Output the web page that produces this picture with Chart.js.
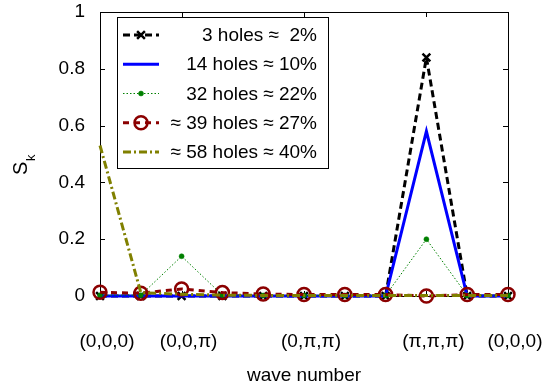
<!DOCTYPE html>
<html>
<head>
<meta charset="utf-8">
<script src="https://cdn.jsdelivr.net/npm/chart.js@4.4.1/dist/chart.umd.min.js"></script>
<style>
  html, body { margin: 0; padding: 0; background: #fff; }
  #wrap { width: 547px; height: 383px; }
</style>
</head>
<body>
<div id="wrap"><canvas id="sk"></canvas></div>
<script>
// --- Data ---
const waveIdx = [0, 1, 2, 3, 4, 5, 6, 7, 8, 9, 10];
const tickIdx = [0, 2, 5, 8, 10];
const tickNames = ['(0,0,0)', '(0,0,π)', '(0,π,π)', '(π,π,π)', '(0,0,0)'];
const yTicks = [0, 0.2, 0.4, 0.6, 0.8, 1];
const seriesNames = ['3 holes ≈  2%', '14 holes ≈ 10%', '32 holes ≈ 22%', '≈ 39 holes ≈ 27%', '≈ 58 holes ≈ 40%'];

const holes3  = [0, 0, 0, 0, 0, 0, 0, 0, 0.84, 0, 0];
const holes14 = [0, 0, 0, 0, 0, 0, 0, 0, 0.58, 0, 0];
const holes32 = [0.003, 0.003, 0.14, 0.003, 0.002, 0.002, 0.002, 0.002, 0.2, 0.002, 0.002];
const holes39 = [0.013, 0.01, 0.025, 0.012, 0.007, 0.005, 0.005, 0.005, 0, 0.005, 0.005];
const holes58 = [0.53, 0.012, 0.006, 0.003, 0.002, 0.002, 0.002, 0.002, 0.002, 0.002, 0.002];

const FONT = 'Liberation Sans, Arial, Helvetica, sans-serif';
const pts = arr => waveIdx.map((k, i) => ({ x: k, y: arr[i] }));

// axes box, inward ticks and axis titles
const frame = {
    id: 'frame',
    beforeDatasetsDraw(chart) {
        const { ctx, chartArea: a, scales: { x, y } } = chart;
        ctx.save();
        ctx.strokeStyle = '#000';
        ctx.lineWidth = 1;
        ctx.strokeRect(a.left + 0.5, a.top + 0.5, a.right - a.left, a.bottom - a.top);
        ctx.beginPath();
        tickIdx.forEach(v => {
            const px = Math.round(x.getPixelForValue(v)) + 0.5;
            ctx.moveTo(px, a.top); ctx.lineTo(px, a.top + 5);
            ctx.moveTo(px, a.bottom); ctx.lineTo(px, a.bottom - 5);
        });
        yTicks.forEach(v => {
            const py = Math.round(y.getPixelForValue(v)) + 0.5;
            ctx.moveTo(a.left, py); ctx.lineTo(a.left + 5, py);
            ctx.moveTo(a.right, py); ctx.lineTo(a.right - 5, py);
        });
        ctx.stroke();

        ctx.fillStyle = '#000';
        ctx.textAlign = 'center';
        ctx.textBaseline = 'middle';
        ctx.font = '19px ' + FONT;
        ctx.fillText('wave number', (a.left + a.right) / 2, 376);

        // S_k, rotated
        ctx.translate(27, 175);
        ctx.rotate(-Math.PI / 2);
        ctx.textAlign = 'left';
        ctx.textBaseline = 'alphabetic';
        ctx.font = '20px ' + FONT;
        ctx.fillText('S', 0, 0);
        ctx.font = '13px ' + FONT;
        ctx.fillText('k', 14, 8);
        ctx.restore();
    }
};

// boxed legend in the upper-left of the axes
const boxLegend = {
    id: 'boxLegend',
    afterDatasetsDraw(chart) {
        const { ctx } = chart;
        const L = 117, T = 17, R = 328, B = 168;
        ctx.save();
        ctx.fillStyle = '#fff';
        ctx.fillRect(L, T, R - L, B - T);
        ctx.strokeStyle = '#000';
        ctx.lineWidth = 1;
        ctx.strokeRect(L + 0.5, T + 0.5, R - L, B - T);

        chart.data.datasets.forEach((ds, i) => {
            const yy = 35 + i * 29.25;
            ctx.save();
            ctx.strokeStyle = ds.borderColor;
            ctx.lineWidth = ds.borderWidth;
            ctx.setLineDash(ds.borderDash || []);
            ctx.beginPath();
            ctx.moveTo(123, yy);
            ctx.lineTo(159, yy);
            ctx.stroke();
            ctx.setLineDash([]);
            if (ds.pointRadius > 0) {
                ctx.strokeStyle = ds.pointBorderColor;
                ctx.fillStyle = ds.pointBackgroundColor;
                ctx.lineWidth = ds.pointBorderWidth;
                Chart.helpers.drawPoint(ctx, {
                    pointStyle: ds.pointStyle, radius: ds.pointRadius,
                    borderWidth: ds.pointBorderWidth, rotation: 0
                }, 141, yy);
            }
            ctx.restore();

            ctx.fillStyle = '#000';
            ctx.font = '19px ' + FONT;
            ctx.textAlign = 'right';
            ctx.textBaseline = 'middle';
            ctx.fillText(ds.label, 317, yy + 1);
        });
        ctx.restore();
    }
};

new Chart(document.getElementById('sk'), {
    type: 'line',
    data: {
        datasets: [
            { label: seriesNames[0], data: pts(holes3), borderColor: '#000000', borderWidth: 3, borderDash: [7, 4],
              pointStyle: 'crossRot', pointRadius: 5.5, pointBorderWidth: 2.5, pointBorderColor: '#000000',
              pointBackgroundColor: '#000000', order: 5 },
            { label: seriesNames[1], data: pts(holes14), borderColor: '#0000ff', borderWidth: 3,
              pointRadius: 0, order: 4 },
            { label: seriesNames[2], data: pts(holes32), borderColor: '#008000', borderWidth: 1, borderDash: [1.5, 2],
              pointStyle: 'circle', pointRadius: 2.5, pointBorderWidth: 0.5, pointBorderColor: '#008000',
              pointBackgroundColor: '#008000', order: 3 },
            { label: seriesNames[3], data: pts(holes39), borderColor: '#8b0000', borderWidth: 3, borderDash: [6, 5],
              pointStyle: 'circle', pointRadius: 6.5, pointBorderWidth: 2.5, pointBorderColor: '#8b0000',
              pointBackgroundColor: 'rgba(0,0,0,0)', order: 2 },
            { label: seriesNames[4], data: pts(holes58), borderColor: '#808000', borderWidth: 3, borderDash: [8, 3, 2, 3],
              pointRadius: 0, order: 1 }
        ]
    },
    options: {
        responsive: true, maintainAspectRatio: false, animation: false, events: [],
        layout: { padding: { top: 12, right: 39, left: 0, bottom: 0 } },
        elements: { line: { tension: 0, fill: false } },
        datasets: { line: { clip: false } },
        plugins: { legend: { display: false }, tooltip: { enabled: false } },
        scales: {
            x: {
                type: 'linear', min: 0, max: 10,
                afterBuildTicks: s => { s.ticks = tickIdx.map(v => ({ value: v })); },
                afterFit: s => { s.height = 87; s.paddingLeft = 0; s.paddingRight = 0; },
                ticks: { callback: (v, i) => tickNames[i], autoSkip: false, maxRotation: 0, labelOffset: 7,
                         padding: 26, color: '#000', font: { family: FONT, size: 19 } },
                grid: { display: false }, border: { display: false }
            },
            y: {
                min: 0, max: 1,
                afterBuildTicks: s => { s.ticks = yTicks.map(v => ({ value: v })); },
                afterFit: s => { s.width = 100; s.paddingTop = 0; s.paddingBottom = 0; },
                ticks: { callback: v => String(v), padding: 7, color: '#000', font: { family: FONT, size: 19 } },
                grid: { display: false }, border: { display: false }
            }
        }
    },
    plugins: [frame, boxLegend]
});
</script>
</body>
</html>
